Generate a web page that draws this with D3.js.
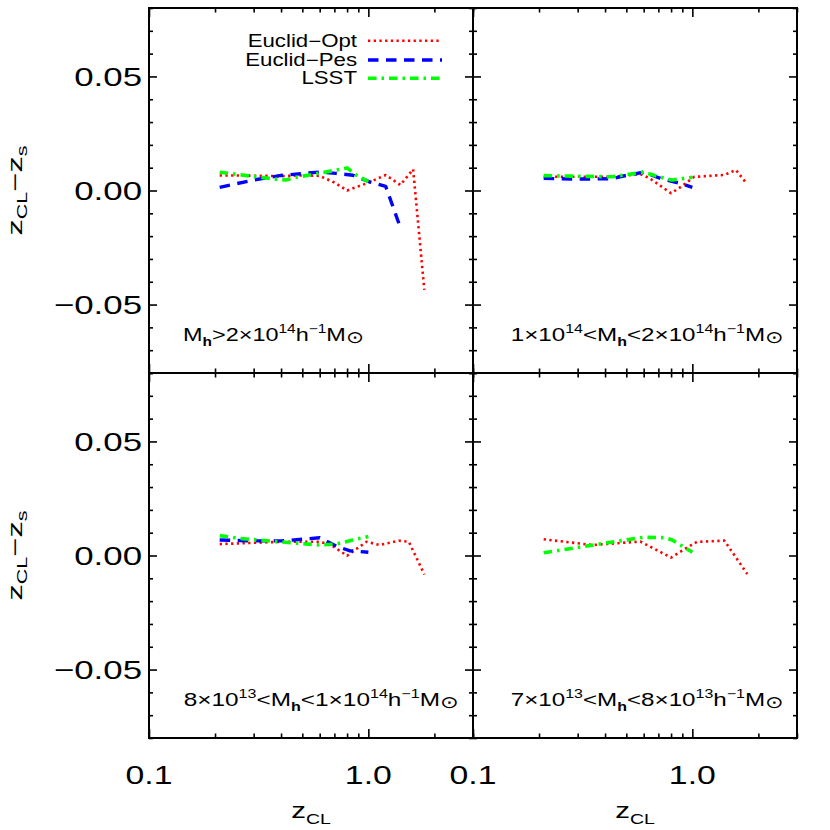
<!DOCTYPE html>
<html><head><meta charset="utf-8">
<script src="https://cdn.jsdelivr.net/npm/d3@7"></script>
<style>
body{margin:0;background:#fff}
text{font-family:"Liberation Sans",Arial,Helvetica,sans-serif;fill:#000}
</style>
</head><body>
<svg id="chart" width="830" height="830"></svg>
<script>
// ---------- DATA ----------
const xMajorTicks = [0.1, 1.0];
const xTickLabels = ["0.1", "1.0"];
const xMinorTicks = [0.2, 0.3, 0.4, 0.5, 0.6, 0.7, 0.8, 0.9, 2, 3];
const yMajorTicks = [-0.05, 0, 0.05];
const yTickLabels = ["\u22120.05", "0.00", "0.05"];
const yMinorTicks = [-0.08, -0.07, -0.06, -0.04, -0.03, -0.02, -0.01, 0.01, 0.02, 0.03, 0.04, 0.06, 0.07, 0.08];
const seriesNames = ["Euclid\u2212Opt", "Euclid\u2212Pes", "LSST"];

// panel 1: Mh > 2e14
const p1Opt = [[0.21,0.0066],[0.3,0.0065],[0.4,0.0063],[0.5,0.0066],[0.6,0.0064],[0.7,0.0035],[0.8,0.0000],[0.9,0.0018],[1.0,0.0034],[1.2,0.0068],[1.4,0.0024],[1.6,0.0093],[1.8,-0.0436]];
const p1Pes = [[0.21,0.0014],[0.3,0.0046],[0.4,0.0066],[0.5,0.0074],[0.6,0.0081],[0.71,0.0075],[0.85,0.0067],[1.0,0.0040],[1.2,0.0018],[1.4,-0.0163]];
const p1Lsst = [[0.21,0.0080],[0.26,0.0069],[0.31,0.0060],[0.38,0.0049],[0.42,0.0046],[0.47,0.0058],[0.56,0.0071],[0.69,0.0087],[0.8,0.0099],[0.88,0.0068],[1.0,0.0039]];
// panel 2: 1e14 < Mh < 2e14
const p2Opt = [[0.21,0.0060],[0.3,0.0060],[0.43,0.0060],[0.58,0.0072],[0.64,0.0053],[0.80,-0.0012],[0.89,0.0017],[1.02,0.0060],[1.40,0.0068],[1.58,0.0090],[1.75,0.0036]];
const p2Pes = [[0.21,0.0053],[0.3,0.0050],[0.43,0.0052],[0.51,0.0068],[0.6,0.0080],[0.73,0.0050],[0.86,0.0034],[1.0,0.0014]];
const p2Lsst = [[0.21,0.0065],[0.43,0.0060],[0.6,0.0080],[0.75,0.0053],[0.81,0.0046],[1.0,0.0058]];
// panel 3: 8e13 < Mh < 1e14
const p3Opt = [[0.21,0.0050],[0.4,0.0060],[0.6,0.0060],[0.67,0.0049],[0.8,-0.0001],[0.98,0.0060],[1.13,0.0046],[1.38,0.0065],[1.53,0.0060],[1.8,-0.0083]];
const p3Pes = [[0.21,0.0068],[0.3,0.0064],[0.4,0.0064],[0.5,0.0071],[0.6,0.0078],[0.72,0.0040],[0.82,0.0021],[1.0,0.0014]];
const p3Lsst = [[0.21,0.0087],[0.26,0.0075],[0.38,0.0061],[0.6,0.0046],[0.71,0.0050],[0.85,0.0068],[1.0,0.0083]];
// panel 4: 7e13 < Mh < 8e13
const p4Opt = [[0.21,0.0071],[0.35,0.0046],[0.58,0.0061],[0.8,-0.0009],[0.99,0.0046],[1.05,0.0060],[1.40,0.0065],[1.78,-0.0081]];
const p4Pes = [];
const p4Lsst = [[0.21,0.0012],[0.37,0.0049],[0.6,0.0080],[0.75,0.0078],[0.81,0.0068],[1.0,0.0014]];

const label1 = [["M",""],["h","sub"],[">2\u00d710",""],["14","sup"],["h",""],["\u22121","sup"],["M",""],["\u2299","sym"]];
const label2 = [["1\u00d710",""],["14","sup"],["<M",""],["h","sub"],["<2\u00d710",""],["14","sup"],["h",""],["\u22121","sup"],["M",""],["\u2299","sym"]];
const label3 = [["8\u00d710",""],["13","sup"],["<M",""],["h","sub"],["<1\u00d710",""],["14","sup"],["h",""],["\u22121","sup"],["M",""],["\u2299","sym"]];
const label4 = [["7\u00d710",""],["13","sup"],["<M",""],["h","sub"],["<8\u00d710",""],["13","sup"],["h",""],["\u22121","sup"],["M",""],["\u2299","sym"]];

// ---------- LAYOUT ----------
const L = 149, MX = 473, R = 797, T = 8, MY = 373, B = 738;
const W = MX - L, H = MY - T;
const svg = d3.select("#chart");
const x = d3.scaleLog().domain([0.1, 3]).range([0, W]);
const y = d3.scaleLinear().domain([-0.08, 0.08]).range([H, 0]);

const styles = [
  {color:"#ff0000", width:2.6, dash:"2.3,3.4"},
  {color:"#0000ff", width:3.4, dash:"10.5,7.5"},
  {color:"#00ff00", width:3.6, dash:"8.5,5,2.5,5"}
];

const panels = [
  {x0:L,  y0:T,  series:[p1Opt,p1Pes,p1Lsst], label:label1, anchor:"start", lx:34,  ly:333, lw:180, legend:true, left:true, bottom:false},
  {x0:MX, y0:T,  series:[p2Opt,p2Pes,p2Lsst], label:label2, anchor:"end",   lx:W-14, ly:333, lw:272, legend:false, left:false, bottom:false},
  {x0:L,  y0:MY, series:[p3Opt,p3Pes,p3Lsst], label:label3, anchor:"end",   lx:W-15, ly:333, lw:274, legend:false, left:true, bottom:true},
  {x0:MX, y0:MY, series:[p4Opt,p4Pes,p4Lsst], label:label4, anchor:"end",   lx:W-14, ly:333, lw:272, legend:false, left:false, bottom:true}
];

function addRich(textSel, parts, size){
  const small = size*0.66;
  let off = 0;
  parts.forEach(([s,k])=>{
    let target = 0, fs = size;
    if(k==="sup"){target = -size*0.45; fs = small;}
    else if(k==="sub"){target = size*0.25; fs = small;}
    else if(k==="sym"){target = size*0.12; fs = size*0.9;}
    const ts = textSel.append("tspan").attr("font-size", fs).attr("dy", target-off).text(s);
    if(k==="sub" && s==="h") ts.attr("font-weight","bold");
    off = target;
  });
}

function stretchedText(parent, tx, ty, anchor, size, parts, sx, rot){
  const g = parent.append("g").attr("transform", `translate(${tx},${ty})` + (rot?` rotate(${rot})`:"") + ` scale(${sx},1)`);
  const t = g.append("text").attr("text-anchor", anchor).attr("font-size", size);
  addRich(t, parts, size);
  return {g, t, tx, ty, rot};
}
function fitWidth(obj, target){
  const w = obj.t.node().getBBox().width;
  const sx = target / w;
  obj.g.attr("transform", `translate(${obj.tx},${obj.ty})` + (obj.rot?` rotate(${obj.rot})`:"") + ` scale(${sx},1)`);
}

const line = d3.line().x(d=>x(d[0])).y(d=>y(d[1]));

panels.forEach(p=>{
  const g = svg.append("g").attr("transform", `translate(${p.x0},${p.y0})`);
  // data lines
  p.series.forEach((s,i)=>{
    if(!s.length) return;
    g.append("path").datum(s).attr("d", line).attr("fill","none")
      .attr("stroke", styles[i].color).attr("stroke-width", styles[i].width)
      .attr("stroke-dasharray", styles[i].dash).attr("stroke-linejoin","round");
  });
  // ticks on all four sides
  const tk = (axis, tr)=>{
    const a = g.append("g").attr("transform", tr).call(axis);
    a.select(".domain").remove();
    a.selectAll("text").remove();
    a.selectAll("line").attr("stroke","#000").attr("stroke-width",1.6);
  };
  tk(d3.axisBottom(x).tickValues(xMajorTicks).tickSize(-9).tickFormat(""), `translate(0,${H})`);
  tk(d3.axisBottom(x).tickValues(xMinorTicks).tickSize(-4.5).tickFormat(""), `translate(0,${H})`);
  tk(d3.axisTop(x).tickValues(xMajorTicks).tickSize(-9).tickFormat(""), `translate(0,0)`);
  tk(d3.axisTop(x).tickValues(xMinorTicks).tickSize(-4.5).tickFormat(""), `translate(0,0)`);
  tk(d3.axisLeft(y).tickValues(yMajorTicks).tickSize(-8).tickFormat(""), `translate(0,0)`);
  tk(d3.axisLeft(y).tickValues(yMinorTicks).tickSize(-4).tickFormat(""), `translate(0,0)`);
  tk(d3.axisRight(y).tickValues(yMajorTicks).tickSize(-8).tickFormat(""), `translate(${W},0)`);
  tk(d3.axisRight(y).tickValues(yMinorTicks).tickSize(-4).tickFormat(""), `translate(${W},0)`);
  // frame
  g.append("rect").attr("x",0).attr("y",0).attr("width",W).attr("height",H)
    .attr("fill","none").attr("stroke","#000").attr("stroke-width",2);

  // panel label
  const lab = stretchedText(g, p.lx, p.ly, p.anchor, 18.5, p.label, 1.2);
  fitWidth(lab, p.lw);

  // y tick labels
  if(p.left){
    yMajorTicks.forEach((v,i)=>{
      stretchedText(g, -7, y(v)+9.3, "end", 26, [[yTickLabels[i],""]], 1.34);
    });
    const yt = stretchedText(g, -127, H/2, "middle", 21, [["z",""],["CL","sub"],["\u2212z",""],["s","sub"]], 1.4, -90);
    fitWidth(yt, 90);
  }
  // x tick labels & title
  if(p.bottom){
    xMajorTicks.forEach((v,i)=>{
      stretchedText(g, x(v), H+46, "middle", 26, [[xTickLabels[i],""]], 1.3);
    });
    const xt = stretchedText(g, W/2, H+80, "middle", 22, [["z",""],["CL","sub"]], 1.35);
    fitWidth(xt, 40);
  }
  // legend (absolute row centres converted into panel coordinates)
  if(p.legend){
    const rows = [40.7, 60, 78.3];
    seriesNames.forEach((nm,i)=>{
      const ry = rows[i] - p.y0;
      stretchedText(g, 357-p.x0, ry+6, "end", 17.5, [[nm,""]], 1.27);
      g.append("line").attr("x1",368-p.x0).attr("x2",442-p.x0).attr("y1",ry).attr("y2",ry)
        .attr("stroke", styles[i].color).attr("stroke-width", styles[i].width).attr("stroke-dasharray", styles[i].dash);
    });
  }
});
</script>
</body></html>
